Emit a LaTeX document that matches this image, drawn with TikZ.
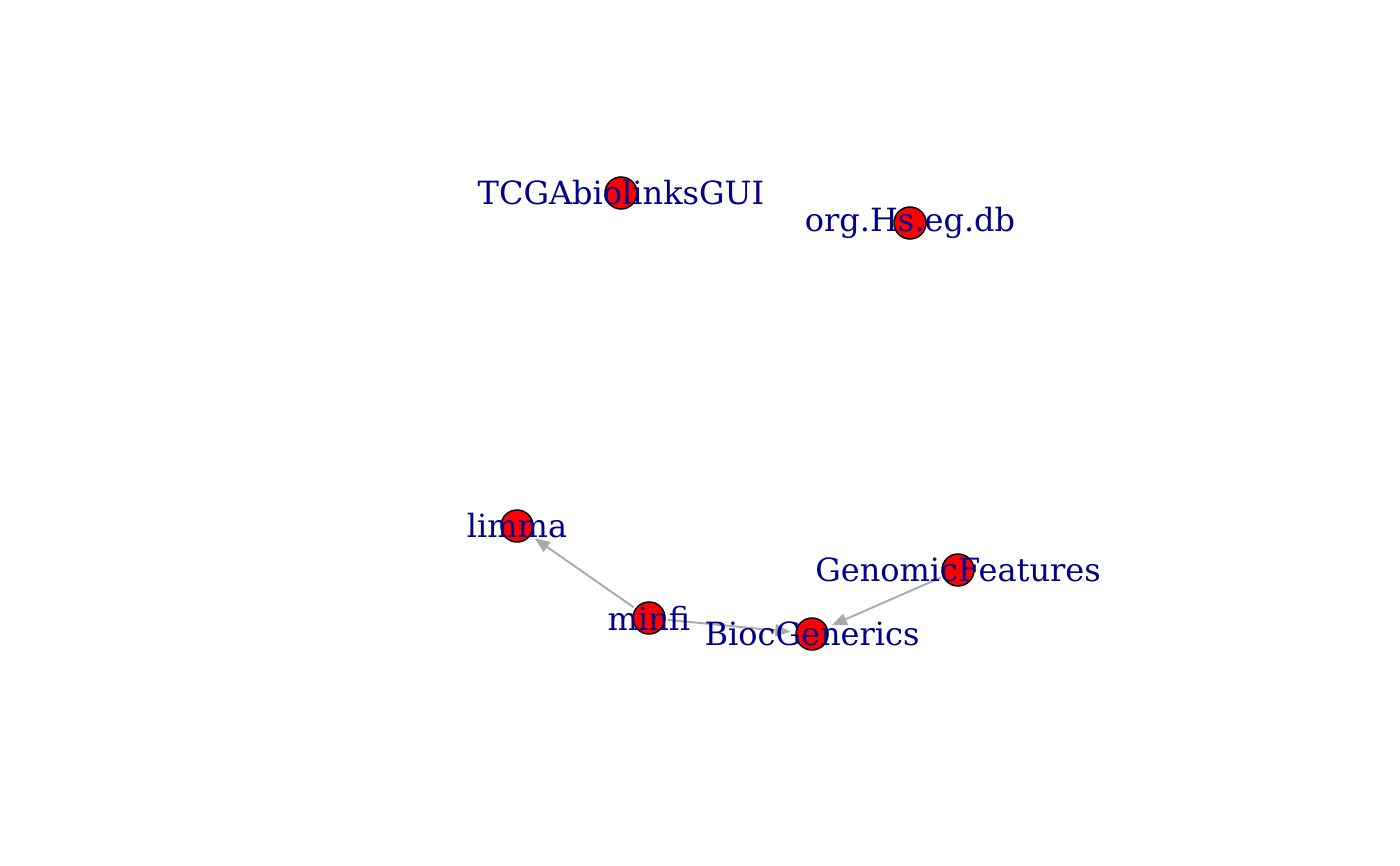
\documentclass[tikz,border=0pt]{standalone}
\usepackage{fontspec}
\setmainfont{DejaVu Serif}
\usetikzlibrary{arrows.meta,backgrounds}
\definecolor{lblblue}{RGB}{0,0,139}
\definecolor{edgegray}{RGB}{169,169,169}
\tikzset{
  vert/.style={circle,fill=red,draw=black,line width=1.5pt,minimum size=32pt,inner sep=0pt},
  lbl/.style={text=lblblue,inner sep=0pt,font=\fontsize{32}{34}\selectfont},
  edge/.style={draw=edgegray,line width=1.9pt,-{Triangle[length=15pt,width=12pt]},shorten >=5pt,shorten <=2pt}
}
\begin{document}
\begin{tikzpicture}[x=1pt,y=-1pt]
\path[use as bounding box] (0,0) rectangle (1400,866);
\node[vert] (tcga) at (621,193) {};
\node[vert] (org) at (910,223) {};
\node[vert] (limma) at (517,526) {};
\node[vert] (minfi) at (649,618) {};
\node[vert] (bioc) at (812,634) {};
\node[vert] (genf) at (958,570) {};
\begin{scope}[on background layer]
\draw[edge] (minfi) -- (limma);
\draw[edge] (minfi) -- (bioc);
\draw[edge] (genf) -- (bioc);
\end{scope}
\node[lbl] (tcgal) at (tcga) {TCGAbiolinksGUI};
\node[lbl] (orgl) at (org) {org.Hs.eg.db};
\node[lbl] (limmal) at (limma) {limma};
\node[lbl] (minfil) at (minfi) {minfi};
\node[lbl] (biocl) at (bioc) {BiocGenerics};
\node[lbl] (genfl) at (genf) {GenomicFeatures};
\end{tikzpicture}
\end{document}
